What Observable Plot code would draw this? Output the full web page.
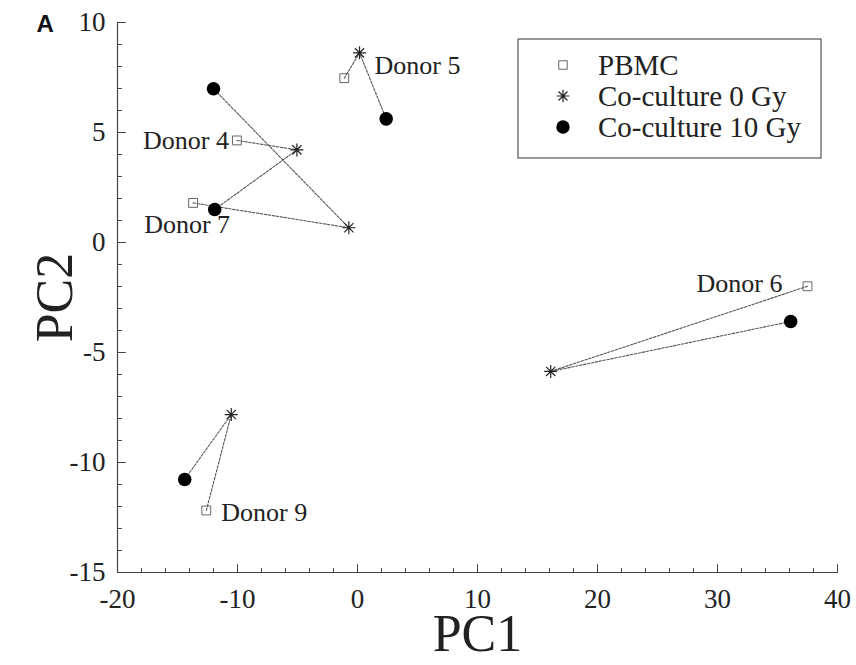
<!DOCTYPE html>
<html><head><meta charset="utf-8">
<script src="https://cdn.jsdelivr.net/npm/d3@7"></script>
<script src="https://cdn.jsdelivr.net/npm/@observablehq/plot@0.6"></script>
<style>body{margin:0;background:#fff}</style>
</head><body><div id="chart"></div>
<script>
// ---- data ----
const donors = ["Donor 4", "Donor 5", "Donor 6", "Donor 7", "Donor 9"];
const pbmcX  = [-10.05, -1.1, 37.5, -13.7, -12.6];
const pbmcY  = [4.64, 7.47, -1.99, 1.8, -12.18];
const gy0X   = [-5.05, 0.17, 16.1, -0.72, -10.52];
const gy0Y   = [4.21, 8.62, -5.86, 0.67, -7.82];
const gy10X  = [-11.9, 2.39, 36.1, -12.0, -14.4];
const gy10Y  = [1.5, 5.62, -3.59, 6.99, -10.77];
const seriesNames = ["PBMC", "Co-culture 0 Gy", "Co-culture 10 Gy"];
const xTicks = [-20, -10, 0, 10, 20, 30, 40];
const yTicks = [-15, -10, -5, 0, 5, 10];
const xLabel = "PC1", yLabel = "PC2", panel = "A";

// ---- build tables ----
const rows = [];
donors.forEach((d, i) => {
  rows.push({donor: d, series: seriesNames[0], x: pbmcX[i], y: pbmcY[i]});
  rows.push({donor: d, series: seriesNames[1], x: gy0X[i], y: gy0Y[i]});
  rows.push({donor: d, series: seriesNames[2], x: gy10X[i], y: gy10Y[i]});
});
const pbmc = rows.filter(r => r.series === seriesNames[0]);
const gy0 = rows.filter(r => r.series === seriesNames[1]);
const gy10 = rows.filter(r => r.series === seriesNames[2]);

const serif = "Liberation Serif";
const asterisk = {draw(ctx, size) {
  const r = Math.sqrt(size / Math.PI);
  for (let k = 0; k < 4; k++) {
    const a = k * Math.PI / 4, dx = r * Math.cos(a), dy = r * Math.sin(a);
    ctx.moveTo(-dx, -dy); ctx.lineTo(dx, dy);
  }
}};
const tickShape = {draw(ctx, l) { ctx.moveTo(0, 0); ctx.lineTo(0, -l); }};
const xMinor = d3.range(xTicks[0], xTicks[xTicks.length - 1] + 0.1, 2);
const yMinor = d3.range(yTicks[0], yTicks[yTicks.length - 1] + 0.1, 1);

// label placement (style offsets, px)
const labelStyle = {
  "Donor 4": {ref: pbmc, textAnchor: "end", dx: -8, dy: 0},
  "Donor 5": {ref: gy0, textAnchor: "start", dx: 15, dy: 13},
  "Donor 6": {ref: pbmc, textAnchor: "end", dx: -25, dy: -3},
  "Donor 7": {ref: pbmc, textAnchor: "middle", dx: -6, dy: 22},
  "Donor 9": {ref: pbmc, textAnchor: "start", dx: 15, dy: 2}
};
const labelMarks = donors.map(d => {
  const s = labelStyle[d];
  return Plot.text(s.ref.filter(r => r.donor === d), {
    x: "x", y: "y", text: "donor", textAnchor: s.textAnchor, dx: s.dx, dy: s.dy,
    fontSize: 26, fontFamily: serif, fill: "#222"
  });
});

function legend(index, scales, values, dimensions) {
  const right = dimensions.width - dimensions.marginRight - 16;
  const top = dimensions.marginTop + 17;
  const w = 303, h = 119;
  const g = d3.create("svg:g");
  g.append("rect").attr("x", right - w).attr("y", top).attr("width", w).attr("height", h)
    .attr("fill", "white").attr("stroke", "#333").attr("stroke-width", 1);
  const sym = [
    {type: d3.symbolSquare, size: 72, fill: "none", stroke: "#666", sw: 1},
    {type: asterisk, size: Math.PI * 40, fill: "none", stroke: "#222", sw: 1.2},
    {type: d3.symbolCircle, size: Math.PI * 45, fill: "#000", stroke: "none", sw: 0}
  ];
  seriesNames.forEach((name, i) => {
    const cy = top + 26 + i * 31;
    g.append("path").attr("transform", `translate(${right - w + 45},${cy})`)
      .attr("d", d3.symbol(sym[i].type, sym[i].size)())
      .attr("fill", sym[i].fill).attr("stroke", sym[i].stroke).attr("stroke-width", sym[i].sw);
    g.append("text").attr("x", right - w + 80).attr("y", cy).attr("dy", "0.35em")
      .attr("text-anchor", "start")
      .attr("font-family", serif).attr("font-size", 29).attr("fill", "#222").text(name);
  });
  return g.node();
}

const axisStroke = "#444";
const chart = Plot.plot({
  width: 856, height: 665,
  marginLeft: 117, marginRight: 19, marginTop: 22, marginBottom: 93,
  style: {fontFamily: serif, background: "white"},
  x: {domain: [xTicks[0], xTicks[xTicks.length - 1]]},
  y: {domain: [yTicks[0], yTicks[yTicks.length - 1]]},
  marks: [
    Plot.ruleX([xTicks[0]], {stroke: axisStroke, strokeWidth: 1.2}),
    Plot.ruleY([yTicks[0]], {stroke: axisStroke, strokeWidth: 1.2}),
    Plot.vector(xMinor, {x: d => d, frameAnchor: "bottom", length: 4, anchor: "start", shape: tickShape, stroke: axisStroke, strokeWidth: 1}),
    Plot.vector(xTicks, {x: d => d, frameAnchor: "bottom", length: 8, anchor: "start", shape: tickShape, stroke: axisStroke, strokeWidth: 1}),
    Plot.vector(yMinor, {y: d => d, frameAnchor: "left", rotate: 90, length: 4, anchor: "start", shape: tickShape, stroke: axisStroke, strokeWidth: 1}),
    Plot.vector(yTicks, {y: d => d, frameAnchor: "left", rotate: 90, length: 8, anchor: "start", shape: tickShape, stroke: axisStroke, strokeWidth: 1}),
    Plot.axisX(xTicks, {tickSize: 0, tickPadding: 16, tickFormat: d => String(d), label: null, fontSize: 27, fontFamily: serif, fill: "#222"}),
    Plot.axisY(yTicks, {tickSize: 0, tickPadding: 12, tickFormat: d => String(d), label: null, fontSize: 27, fontFamily: serif, fill: "#222"}),
    Plot.text([xLabel], {frameAnchor: "bottom", lineAnchor: "middle", dy: 62, fontSize: 52, fontFamily: serif, fill: "#222"}),
    Plot.text([yLabel], {frameAnchor: "left", textAnchor: "middle", lineAnchor: "middle", dx: -62, rotate: -90, fontSize: 52, fontFamily: serif, fill: "#222"}),
    Plot.text([panel], {frameAnchor: "top-left", lineAnchor: "middle", dx: -81, dy: 2, fontSize: 24, fontWeight: "bold", fontFamily: "Liberation Sans", fill: "#111"}),
    Plot.line(rows, {x: "x", y: "y", z: "donor", stroke: "#555", strokeWidth: 1.1, strokeDasharray: "2.5,1.5"}),
    Plot.dot(pbmc, {x: "x", y: "y", symbol: "square", r: 5, stroke: "#666", strokeWidth: 1, fill: "none"}),
    Plot.dot(gy0, {x: "x", y: "y", symbol: asterisk, r: 6.5, stroke: "#222", strokeWidth: 1.2}),
    Plot.dot(gy10, {x: "x", y: "y", r: 6.8, fill: "#000", stroke: "none"}),
    ...labelMarks,
    legend
  ]
});
document.getElementById("chart").append(chart);
</script>
</body></html>
